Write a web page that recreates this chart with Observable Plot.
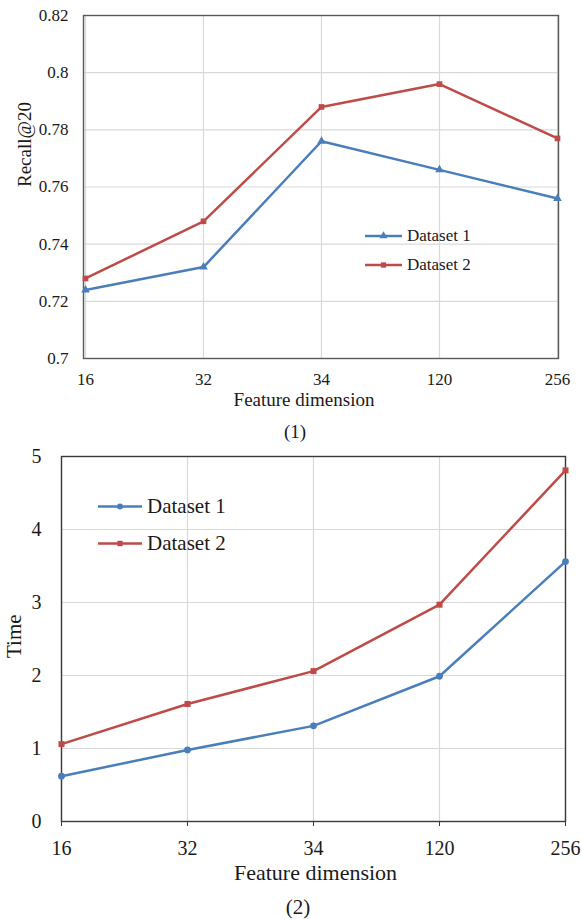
<!DOCTYPE html>
<html>
<head>
<meta charset="utf-8">
<script src="https://cdn.jsdelivr.net/npm/d3@7"></script>
<script src="https://cdn.jsdelivr.net/npm/@observablehq/plot@0.6"></script>
<style>
  html, body { margin: 0; padding: 0; background: #fff; }
  #wrap { position: relative; width: 582px; height: 919px; overflow: hidden; font-family: "Liberation Serif", "Times New Roman", serif; color: #1a1a1a; }
  .abs { position: absolute; }
  .cap { position: absolute; transform: translate(-50%, -50%); white-space: nowrap; }
  .leg { position: absolute; display: flex; align-items: center; white-space: nowrap; transform: translateY(-50%); }
</style>
</head>
<body>
<div id="wrap">
  <div id="c1" class="abs" style="left:0;top:0"></div>
  <div id="c2" class="abs" style="left:0;top:440px"></div>
</div>
<script>
// ---- data ----
const dims = ["16", "32", "34", "120", "256"];
const seriesNames = ["Dataset 1", "Dataset 2"];
const recallD1 = [0.724, 0.732, 0.776, 0.766, 0.756];
const recallD2 = [0.728, 0.748, 0.788, 0.796, 0.777];
const timeD1 = [0.62, 0.98, 1.31, 1.99, 3.56];
const timeD2 = [1.06, 1.61, 2.06, 2.97, 4.81];
const recallTicks = [0.7, 0.72, 0.74, 0.76, 0.78, 0.8, 0.82];
const timeTicks = [0, 1, 2, 3, 4, 5];
const xTitle = "Feature dimension";
const yTitle1 = "Recall@20";
const yTitle2 = "Time";
const captions = ["(1)", "(2)"];

// ---- styling ----
const FONT = '"Liberation Serif", "Times New Roman", serif';
const colors = ["#4a7ebb", "#be4b48"];
const GRID = "#d9d9d9";

function rows(a, b) {
  const out = [];
  dims.forEach((d, i) => out.push({dim: d, value: a[i], series: seriesNames[0]}));
  dims.forEach((d, i) => out.push({dim: d, value: b[i], series: seriesNames[1]}));
  return out;
}

function legend(container, left, tops, symbols, fontSize, lineW) {
  seriesNames.forEach((name, i) => {
    const item = document.createElement("div");
    item.className = "leg";
    item.style.left = left + "px";
    item.style.top = tops[i] + "px";
    item.style.fontSize = fontSize + "px";
    const h = 12;
    const sym = d3.symbol(symbols[i], 28)();
    item.innerHTML =
      `<svg width="${lineW}" height="${h}" style="display:block;margin-right:5px">` +
      `<line x1="0" x2="${lineW}" y1="${h/2}" y2="${h/2}" stroke="${colors[i]}" stroke-width="2.5"/>` +
      `<path d="${sym}" transform="translate(${lineW/2},${h/2})" fill="${colors[i]}"/></svg>` +
      `<span>${name}</span>`;
    container.appendChild(item);
  });
}

function caption(container, text, x, y, fs) {
  const c = document.createElement("div");
  c.className = "cap";
  c.style.left = x + "px";
  c.style.top = y + "px";
  c.style.fontSize = fs + "px";
  c.textContent = text;
  container.appendChild(c);
}

const wrap = document.getElementById("wrap");

// ---- chart 1 ----
const data1 = rows(recallD1, recallD2);
const p1 = Plot.plot({
  width: 582, height: 420,
  marginTop: 15, marginBottom: 62, marginLeft: 83, marginRight: 24,
  style: {fontFamily: FONT, fontSize: "17px", color: "#1a1a1a", background: "transparent", overflow: "visible"},
  x: {type: "point", domain: dims, padding: 0},
  y: {domain: [0.7, 0.82]},
  color: {domain: seriesNames, range: colors},
  symbol: {domain: seriesNames, range: ["triangle", "square"]},
  marks: [
    Plot.gridX(dims, {stroke: GRID, strokeOpacity: 1, strokeWidth: 1.2}),
    Plot.gridY(recallTicks, {stroke: GRID, strokeOpacity: 1, strokeWidth: 1.2}),
    Plot.frame({stroke: "#595959", strokeWidth: 1.4}),
    Plot.axisX({tickSize: 0, tickPadding: 14, label: null}),
    Plot.axisY({ticks: recallTicks, tickSize: 0, tickPadding: 15, tickFormat: d => String(d), label: null}),
    Plot.line(data1, {x: "dim", y: "value", z: "series", stroke: "series", strokeWidth: 2.5}),
    Plot.dot(data1, {x: "dim", y: "value", fill: "series", symbol: "series", r: 3.2}),
    Plot.text([xTitle], {frameAnchor: "bottom", dy: 47, dx: -17, fontSize: 19}),
    Plot.text([yTitle1], {frameAnchor: "left", rotate: -90, dx: -59, fontSize: 19})
  ]
});
document.getElementById("c1").appendChild(p1);
legend(wrap, 365, [236, 265], [d3.symbolTriangle, d3.symbolSquare], 17, 37);
caption(wrap, captions[0], 295, 432, 19);

// ---- chart 2 ----
const data2 = rows(timeD1, timeD2);
const p2 = Plot.plot({
  width: 582, height: 455,
  marginTop: 16, marginBottom: 74, marginLeft: 61, marginRight: 17,
  style: {fontFamily: FONT, fontSize: "20px", color: "#1a1a1a", background: "transparent", overflow: "visible"},
  x: {type: "point", domain: dims, padding: 0},
  y: {domain: [0, 5]},
  color: {domain: seriesNames, range: colors},
  symbol: {domain: seriesNames, range: ["circle", "square"]},
  marks: [
    Plot.gridX(dims, {stroke: GRID, strokeOpacity: 1, strokeWidth: 1.2}),
    Plot.gridY(timeTicks, {stroke: GRID, strokeOpacity: 1, strokeWidth: 1.2}),
    Plot.frame({stroke: "#3a3a3a", strokeWidth: 1.4}),
    Plot.axisX({tickSize: 5, tickPadding: 14, label: null, stroke: "#3a3a3a"}),
    Plot.axisY({ticks: timeTicks, tickSize: 0, tickPadding: 20, tickFormat: d => String(d), label: null}),
    Plot.line(data2, {x: "dim", y: "value", z: "series", stroke: "series", strokeWidth: 2.5}),
    Plot.dot(data2, {x: "dim", y: "value", fill: "series", symbol: "series", r: 3.4}),
    Plot.text([xTitle], {frameAnchor: "bottom", dy: 58, dx: 2, fontSize: 22}),
    Plot.text([yTitle2], {frameAnchor: "left", rotate: -90, dx: -47, dy: 19, fontSize: 21})
  ]
});
document.getElementById("c2").appendChild(p2);
legend(wrap, 98, [506, 543], [d3.symbolCircle, d3.symbolSquare], 21, 44);
caption(wrap, captions[1], 298, 907, 21);
</script>
</body>
</html>
